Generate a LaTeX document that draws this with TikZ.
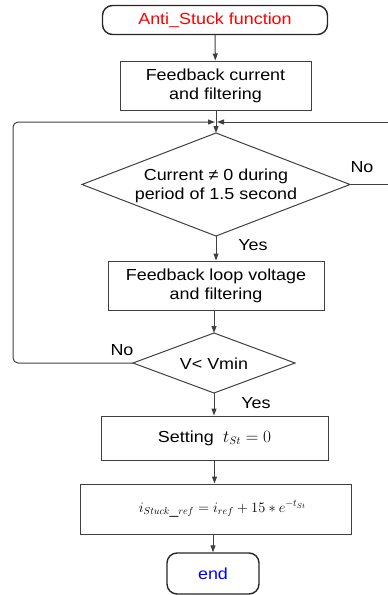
\documentclass[tikz,border=0pt]{standalone}
\usepackage{fontspec}
\setmainfont[FakeStretch=1.12]{Liberation Sans}
\usetikzlibrary{arrows.meta}
\definecolor{ln}{gray}{0.25}
\begin{document}
\begin{tikzpicture}[x=1pt,y=-1pt,
  every node/.style={font=\fontsize{16}{19}\selectfont},
  procbox/.style={draw=ln,line width=1pt,rectangle,inner sep=0pt,align=center},
  term/.style={draw=black!85,line width=1.4pt,rectangle,rounded corners=10pt,inner sep=0pt},
  dtext/.style={inner sep=0pt,align=center},
  shapeline/.style={draw=ln,line width=1pt},
  conn/.style={draw=ln,line width=1pt,-{Triangle[length=7pt,width=5pt]}},
  plain/.style={draw=ln,line width=1pt},
  lbl/.style={inner sep=0pt}]
\useasboundingbox (0,0) rectangle (388,595);
\node[term,minimum width=225pt,minimum height=29pt,text=red] (start) at (215,20) {Anti\_Stuck function};
\node[procbox,minimum width=191pt,minimum height=49pt] (b1) at (215.5,85.5) {Feedback current\\and filtering};
% decision 1
\node[dtext] (d1) at (216,186) {Current ≠ 0 during\\period of 1.5 second};
\coordinate (d1t) at (216,133);
\coordinate (d1b) at (216,236);
\coordinate (d1l) at (82,184.5);
\coordinate (d1r) at (350,184.5);
\draw[shapeline] (d1t) -- (d1r) -- (d1b) -- (d1l) -- cycle;
\node[procbox,minimum width=216pt,minimum height=49pt] (b2) at (216,285.5) {Feedback loop voltage\\and filtering};
% decision 2
\node[dtext] (d2) at (214,364) {V\textless{} Vmin};
\coordinate (d2t) at (214,333);
\coordinate (d2b) at (214,393);
\coordinate (d2l) at (133,363);
\coordinate (d2r) at (295,363);
\draw[shapeline] (d2t) -- (d2r) -- (d2b) -- (d2l) -- cycle;
\node[procbox,minimum width=227pt,minimum height=44pt] (b3) at (214.5,438) {Setting \;$t_{St}=0$};
\node[procbox,minimum width=271pt,minimum height=50pt] (b4) at (215.5,509) {\hspace*{14pt}\fontsize{14}{16}\selectfont$i_{Stuck\_ref}=i_{ref}+15*e^{-t_{St}}$};
\node[term,minimum width=92pt,minimum height=41pt,text=blue] (end) at (213,573.5) {end};
\coordinate (j) at (216,122);
\coordinate (rtop) at (388,122);
\coordinate (rmid) at (388,184.5);
\draw[conn] (start) -- (b1);
\draw[conn] (b1.south -| d1t) -- (d1t);
\draw[conn] (d2l) [rounded corners=5pt] -| (13,122) -- ([xshift=-1pt]j);
\draw[conn] (rtop) -- ([xshift=1pt]j);
\draw[plain] (d1r) -- (rmid);
\draw[conn] (d1b) -- (b2.north -| d1b);
\draw[conn] (b2.south -| d2t) -- (d2t);
\draw[conn] (d2b) -- (b3.north -| d2b);
\draw[conn] (b3.south) -- (b4.north -| b3.south);
\draw[conn] (b4.south -| end.north) -- (end.north);
\node[lbl] (no1) at (362,167) {No};
\node[lbl] (yes1) at (253,245) {Yes};
\node[lbl] (no2) at (122,350) {No};
\node[lbl] (yes2) at (256,403) {Yes};
\end{tikzpicture}
\end{document}
